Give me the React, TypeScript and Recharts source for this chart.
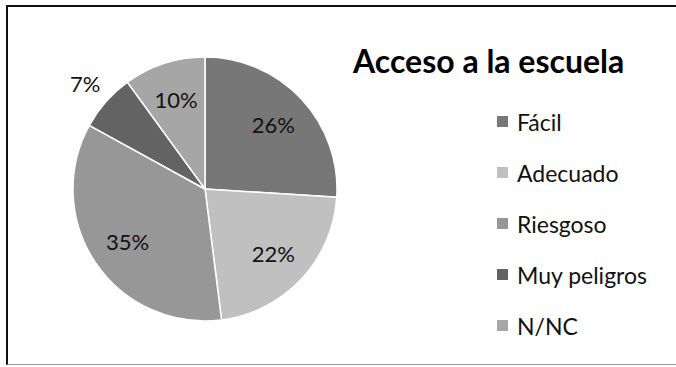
import { PieChart, Pie, Cell, Legend } from 'recharts';

const categories = ['Fácil', 'Adecuado', 'Riesgoso', 'Muy peligros', 'N/NC'];
const values = [26, 22, 35, 7, 10];
const COLORS = ['#777777', '#c0c0c0', '#979797', '#636363', '#a6a6a6'];

const title = 'Acceso a la escuela';

const data = categories.map((name, i) => ({ name, value: values[i] }));

const RADIAN = Math.PI / 180;

const renderLabel = (props: any) => {
  const { cx, cy, midAngle, outerRadius, percent } = props;
  // small slices get their label outside, like Excel's best fit
  const r = percent < 0.08 ? outerRadius * 1.21 : outerRadius * 0.71;
  const x = cx + r * Math.cos(-midAngle * RADIAN);
  const y = cy + r * Math.sin(-midAngle * RADIAN);
  return (
    <text
      x={x}
      y={y}
      fill="#111"
      textAnchor="middle"
      dominantBaseline="central"
      fontFamily="Lato, sans-serif"
      fontSize={22}
    >
      {`${(percent * 100).toFixed(0)}%`}
    </text>
  );
};

// keep the legend in data order (Recharts sorts its payload by default)
const renderLegend = () => (
  <div>
    {categories.map((name, i) => (
      <div key={`leg-${i}`} style={{ display: 'flex', alignItems: 'center', height: 51 }}>
        <span
          style={{
            width: 11,
            height: 11,
            background: COLORS[i % COLORS.length],
            display: 'inline-block',
            marginRight: 9,
          }}
        />
        <span style={{ fontFamily: 'Lato, sans-serif', fontSize: 23, color: '#111' }}>{name}</span>
      </div>
    ))}
  </div>
);

const App = () => (
  <div style={{ position: 'absolute', left: 0, top: 0, width: 676, height: 367, background: '#fff' }}>
    <div
      style={{
        position: 'absolute',
        left: 6,
        top: 5,
        width: 670,
        height: 357,
        borderLeft: '2px solid #111',
        borderTop: '2px solid #111',
        borderBottom: '1px solid #999',
      }}
    />
    <div
      style={{
        position: 'absolute',
        left: 353,
        top: 43,
        fontFamily: 'Lato, sans-serif',
        fontWeight: 'bold',
        fontSize: 32,
        color: '#000',
        lineHeight: '36px',
        whiteSpace: 'nowrap',
      }}
    >
      {title}
    </div>
    <PieChart width={676} height={367} style={{ position: 'absolute', left: 0, top: 0 }}>
      <Pie
        data={data}
        dataKey="value"
        nameKey="name"
        cx={200}
        cy={184}
        outerRadius={132}
        startAngle={90}
        endAngle={-270}
        stroke="#fff"
        strokeWidth={1.5}
        labelLine={false}
        label={renderLabel}
        isAnimationActive={false}
      >
        {data.map((entry, index) => (
          <Cell key={`cell-${index}`} fill={COLORS[index % COLORS.length]} />
        ))}
      </Pie>
      <Legend
        layout="vertical"
        content={renderLegend}
        wrapperStyle={{ position: 'absolute', left: 497, top: 96, width: 175 }}
      />
    </PieChart>
  </div>
);

export default App;
